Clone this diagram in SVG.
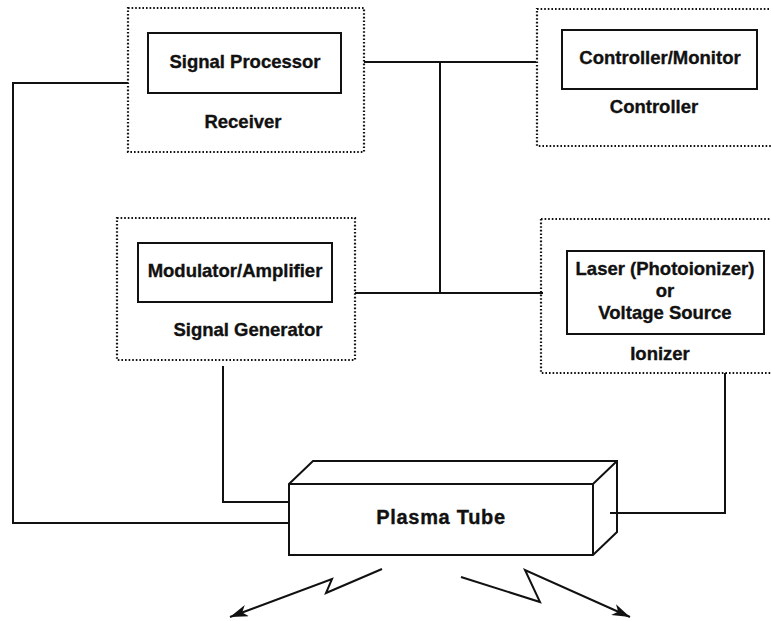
<svg xmlns="http://www.w3.org/2000/svg" width="771" height="621" viewBox="0 0 771 621">
<style>
.dot{fill:none;stroke:#111;stroke-width:2.2;stroke-dasharray:1.6 2}
.box{fill:none;stroke:#111;stroke-width:2}
.ln{fill:none;stroke:#111;stroke-width:2}
.t{font-family:"Liberation Sans",Arial,Helvetica,sans-serif;font-weight:bold;font-size:18.5px;fill:#111;stroke:#111;stroke-width:0.35;text-anchor:middle}
</style>
<defs>
<marker id="ah" viewBox="0 0 18 12" refX="18" refY="6" markerWidth="18" markerHeight="12" markerUnits="userSpaceOnUse" orient="auto">
<path d="M0,0 L18,6 L0,12 L5,6 Z" fill="#111"/>
</marker>
</defs>
<rect width="771" height="621" fill="#fff"/>
<g id="connectors">
<polyline class="ln" points="128,83 13,83 13,523 289,523"/>
<polyline class="ln" points="364,62 536,62"/>
<polyline class="ln" points="440,62 440,293"/>
<polyline class="ln" points="355,293 543,293"/>
<polyline class="ln" points="223,366 223,502 289,502"/>
<polyline class="ln" points="725,373 725,513 610,513"/>
<polyline class="ln" points="382,569 326,593 332,579 230,617" stroke-width="1.8" marker-end="url(#ah)"/>
<polyline class="ln" points="461,577 540,602 525,570 630,617" stroke-width="1.8" marker-end="url(#ah)"/>
</g>
<g id="receiver">
<rect class="dot" x="128" y="8" width="236" height="144"/>
<rect class="box" x="148" y="33" width="193" height="60"/>
<text class="t" x="245" y="68">Signal Processor</text>
<text class="t" x="243" y="128">Receiver</text>
</g>
<g id="controller">
<rect class="dot" x="537" y="9" width="250" height="137"/>
<rect class="box" x="562" y="30" width="195" height="59"/>
<text class="t" x="660" y="64">Controller/Monitor</text>
<text class="t" x="654" y="113">Controller</text>
</g>
<g id="signal-generator">
<rect class="dot" x="117" y="218" width="238" height="142"/>
<rect class="box" x="138" y="243" width="194" height="59"/>
<text class="t" x="235" y="277">Modulator/Amplifier</text>
<text class="t" x="248" y="336">Signal Generator</text>
</g>
<g id="ionizer">
<rect class="dot" x="541" y="219" width="250" height="154"/>
<rect class="box" x="567" y="251" width="197" height="83"/>
<text class="t" x="665" y="275">Laser (Photoionizer)</text>
<text class="t" x="665" y="297">or</text>
<text class="t" x="665" y="319">Voltage Source</text>
<text class="t" x="660" y="360">Ionizer</text>
</g>
<g id="plasma-tube">
<path class="box" d="M289,484 L313,461 L617,461 L617,532 L593,555 L289,555 Z M289,484 L593,484 L617,461 M593,484 L593,555" stroke-linejoin="miter"/>
<text class="t" x="441" y="524" style="font-size:20px;letter-spacing:0.7px">Plasma Tube</text>
</g>
</svg>
